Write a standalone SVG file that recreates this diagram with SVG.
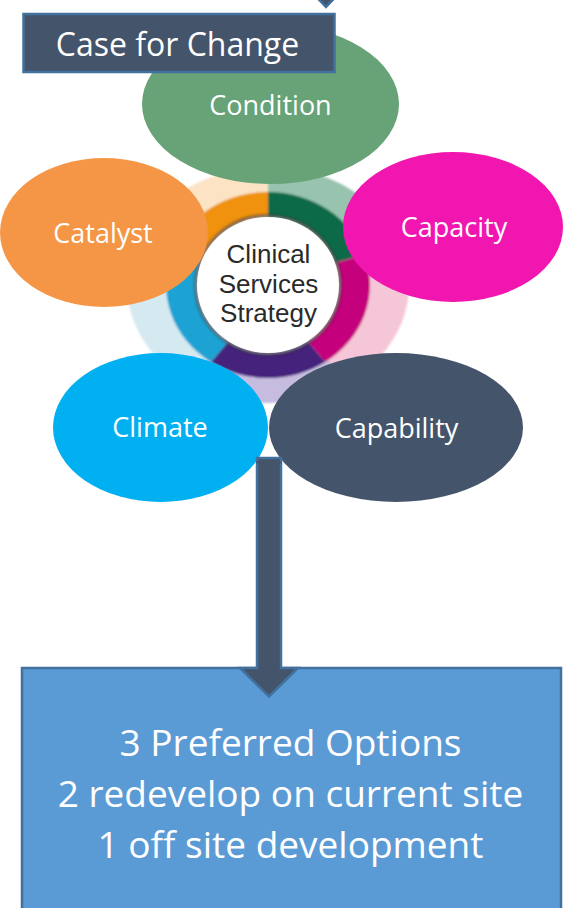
<svg xmlns="http://www.w3.org/2000/svg" width="564" height="908" viewBox="0 0 564 908">
<defs>
<style>
.lbl{font-family:"Open Sans","Noto Sans","Liberation Sans",sans-serif;fill:#ffffff;text-anchor:middle}
.ell{font-size:27px}
.ctr{font-family:"Liberation Sans",Arial,sans-serif;font-size:26px;fill:#2a2a2a;text-anchor:middle}
.arrow{fill:#44546a;stroke:#41719c;stroke-width:2.5;stroke-linejoin:miter}
</style>
<filter id="soft" x="-10%" y="-10%" width="120%" height="120%"><feGaussianBlur stdDeviation="0.8"/></filter>
<filter id="shadow" x="-20%" y="-20%" width="140%" height="140%"><feGaussianBlur stdDeviation="1.6"/></filter>
</defs>
<rect width="564" height="908" fill="#ffffff"/>

<g id="strategy-wheel">
  <g filter="url(#soft)">
    <path d="M268 285 L268 167 A141 118 0 0 1 401.3 246.6 Z" fill="#97c3af"/>
    <path d="M268 285 L401.3 246.6 A141 118 0 0 1 346.8 382.8 Z" fill="#f5c6d7"/>
    <path d="M268 285 L346.8 382.8 A141 118 0 0 1 189.2 382.8 Z" fill="#c5bcdf"/>
    <path d="M268 285 L189.2 382.8 A141 118 0 0 1 135.5 244.6 Z" fill="#d5e9f0"/>
    <path d="M268 285 L135.5 244.6 A141 118 0 0 1 268 167 Z" fill="#fce3c4"/>
    <path d="M268 192 A102 93 0 0 1 364.4 254.7 L336.1 262.5 A72 69 0 0 0 268 216 Z" fill="#0a6b48"/>
    <path d="M364.4 254.7 A102 93 0 0 1 325 362.1 L308.3 342.2 A72 69 0 0 0 336.1 262.5 Z" fill="#c4037d"/>
    <path d="M325 362.1 A102 93 0 0 1 211 362.1 L227.7 342.2 A72 69 0 0 0 308.3 342.2 Z" fill="#45237c"/>
    <path d="M211 362.1 A102 93 0 0 1 172.2 253.2 L200.3 261.4 A72 69 0 0 0 227.7 342.2 Z" fill="#1ba3d4"/>
    <path d="M172.2 253.2 A102 93 0 0 1 268 192 L268 216 A72 69 0 0 0 200.3 261.4 Z" fill="#f0920f"/>
  </g>
  <ellipse cx="268" cy="285" rx="72" ry="69" fill="none" stroke="#333" stroke-width="3" opacity="0.7" filter="url(#shadow)"/>
  <ellipse cx="268" cy="285" rx="71" ry="68" fill="#ffffff"/>
  <text class="ctr" x="268.5" y="263">Clinical</text>
  <text class="ctr" x="268.5" y="293">Services</text>
  <text class="ctr" x="268.5" y="322">Strategy</text>
</g>

<g id="condition">
  <ellipse cx="270.5" cy="104" rx="128.5" ry="80" fill="#67a377"/>
  <text class="lbl ell" x="270.5" y="115">Condition</text>
</g>

<g id="catalyst">
  <ellipse cx="104" cy="232.5" rx="104" ry="74.5" fill="#f59646"/>
  <text class="lbl ell" x="103" y="243">Catalyst</text>
</g>

<g id="capacity">
  <ellipse cx="453" cy="227" rx="110" ry="75" fill="#f216b0"/>
  <text class="lbl ell" x="454" y="237">Capacity</text>
</g>

<g id="climate">
  <ellipse cx="160.5" cy="427.5" rx="107.5" ry="74.5" fill="#00b0f0"/>
  <text class="lbl ell" x="160" y="437">Climate</text>
</g>

<g id="capability">
  <ellipse cx="396" cy="427.5" rx="127" ry="74.5" fill="#44546a"/>
  <text class="lbl ell" x="396.5" y="438">Capability</text>
</g>

<g id="case-for-change">
  <rect x="23.5" y="14" width="311" height="58" fill="#44546a" stroke="#41719c" stroke-width="2.5"/>
  <text class="lbl" x="177.5" y="56" font-size="32">Case for Change</text>
</g>

<g id="preferred-options">
  <rect x="22" y="668" width="539" height="260" fill="#5b9bd5" stroke="#41719c" stroke-width="2.5"/>
  <text class="lbl" x="290.5" y="756" font-size="37">3 Preferred Options</text>
  <text class="lbl" x="290.5" y="807" font-size="37">2 redevelop on current site</text>
  <text class="lbl" x="290.5" y="858" font-size="37">1 off site development</text>
</g>

<g id="connectors">
  <path class="arrow" d="M316.5 -3 L335.5 -3 L326 7 Z"/>
  <path class="arrow" d="M257 458 L281 458 L281 668 L298 668 L269 696.5 L240 668 L257 668 Z"/>
  <line x1="256" y1="462.5" x2="282" y2="462.5" stroke="#44546a" stroke-width="1.5"/>
</g>
</svg>
